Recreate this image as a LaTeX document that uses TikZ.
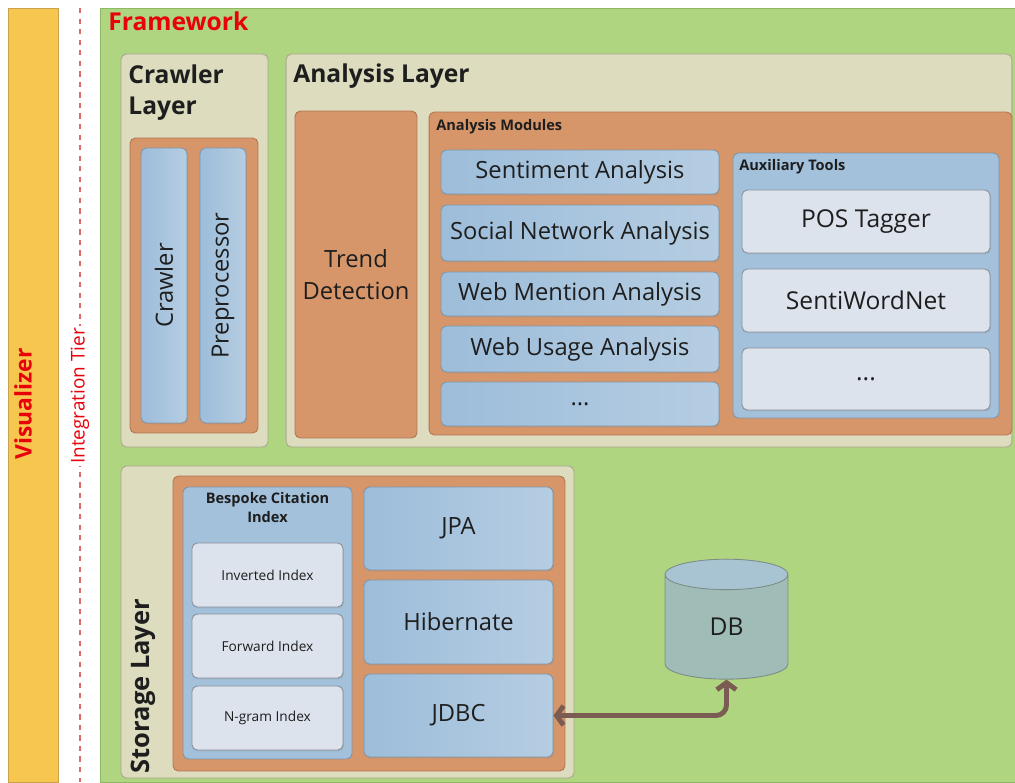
\documentclass[tikz,border=0pt]{standalone}
\usepackage{fontspec}
\setmainfont{Open Sans}
\usetikzlibrary{positioning,shapes.geometric,arrows.meta,shadows}

\definecolor{visbar}{HTML}{F6C64E}
\definecolor{visline}{HTML}{C8A24C}
\definecolor{fwgreen}{HTML}{B0D580}
\definecolor{fwline}{HTML}{8FB866}
\definecolor{beige}{HTML}{DDDCBF}
\definecolor{beigeline}{HTML}{A9A78E}
\definecolor{orng}{HTML}{D6966A}
\definecolor{orngline}{HTML}{B27552}
\definecolor{bluebox}{HTML}{A3C1DB}
\definecolor{blueL}{HTML}{9DBDDA}
\definecolor{blueR}{HTML}{B5CDE2}
\definecolor{blueline}{HTML}{7F95A8}
\definecolor{lightbox}{HTML}{DCE3EC}
\definecolor{grayline}{HTML}{8A9099}
\definecolor{txt}{HTML}{1E1E1E}
\definecolor{redtxt}{HTML}{E8000B}
\definecolor{tierline}{HTML}{E06A6A}
\definecolor{dbbody}{HTML}{9FBCB6}
\definecolor{dbtop}{HTML}{A8C4D3}
\definecolor{dbline}{HTML}{7D8C86}
\definecolor{linkc}{HTML}{7A5C53}

\begin{document}
\begin{tikzpicture}[x=0.02cm, y=-0.02cm,
box/.style={rounded corners=3pt, inner sep=0pt, line width=0.5pt},
shade/.style={drop shadow={opacity=0.2, shadow xshift=0.6pt, shadow yshift=-0.8pt}},
layer/.style={box, fill=beige, draw=beigeline},
group/.style={box, fill=orng, draw=orngline},
holder/.style={box, fill=bluebox, draw=blueline},
module/.style={box, shade, draw=blueline, left color=blueL, right color=blueR, text=txt,
  font=\fontsize{13.5}{16}\selectfont, align=center},
tool/.style={box, shade, fill=lightbox, draw=grayline, text=txt, align=center},
title/.style={anchor=north west, inner sep=0pt, text=txt,
  font=\bfseries\fontsize{14}{18}\selectfont, align=left},
subtitle/.style={inner sep=0pt, text=txt, font=\bfseries\fontsize{8.3}{11}\selectfont, align=center},
link/.style={draw=linkc, line width=2.8pt, rounded corners=6pt,
  {Straight Barb[length=4pt,width=11pt]}-{Straight Barb[length=4pt,width=11pt]}}]

\useasboundingbox[fill=white] (0,0) rectangle (1015,782);

% visualizer and integration tier
\node[fill=visbar, draw=visline, minimum width=1cm, minimum height=15.48cm, inner sep=0pt] (vis) at (33,395) {};
\node[rotate=90, text=redtxt, font=\bfseries\fontsize{13}{15}\selectfont, inner sep=0pt] (vislabel) at (23,404) {Visualizer};
\coordinate (tiertop) at (80,8);
\coordinate (tierbot) at (80,782);
\draw[tierline, dashed, line width=0.6pt] (tiertop) -- (tierbot);
\node[rotate=90, fill=white, text=redtxt, font=\fontsize{10.8}{12}\selectfont, inner sep=1pt] (tier) at (80,396) {Integration Tier};

% framework
\node[fill=fwgreen, draw=fwline, minimum width=18.3cm, minimum height=15.48cm, inner sep=0pt] (fw) at (557.5,395) {};
\node[anchor=north west, inner sep=0pt, text=redtxt, font=\bfseries\fontsize{14}{16}\selectfont] (fwlabel) at (108,11) {Framework};

% crawler layer
\node[layer, minimum width=2.94cm, minimum height=7.86cm] (crawl) at (194.5,250.5) {};
\node[title] (crawltitle) at (128,64) {Crawler\\Layer};
\node[group, minimum width=2.56cm, minimum height=5.9cm] (crawlgrp) at (194,285.5) {};
\node[module, rotate=90, minimum width=5.5cm, minimum height=0.92cm] (crawler) at (164,285.5) {Crawler};
\node[module, rotate=90, minimum width=5.5cm, minimum height=0.92cm] (prep) at (223,285.5) {Preprocessor};

% analysis layer
\node[layer, minimum width=14.52cm, minimum height=7.86cm] (analysis) at (649,250.5) {};
\node[title] (analysistitle) at (293,63) {Analysis Layer};
\node[group, text=txt, align=center, font=\fontsize{13.5}{18}\selectfont,
  minimum width=2.44cm, minimum height=6.54cm] (trend) at (356,274.5) {Trend\\Detection};
\node[group, minimum width=11.66cm, minimum height=6.46cm] (modules) at (720.5,273.5) {};
\node[subtitle, anchor=north west] (modtitle) at (436,119) {Analysis Modules};
\node[module, minimum width=5.56cm, minimum height=0.88cm] (senti) at (580,172) {Sentiment Analysis};
\node[module, minimum width=5.56cm, minimum height=1.12cm] (social) at (580,233) {Social Network Analysis};
\node[module, minimum width=5.56cm, minimum height=0.88cm] (mention) at (580,294) {Web Mention Analysis};
\node[module, minimum width=5.56cm, minimum height=0.92cm] (usage) at (580,349) {Web Usage Analysis};
\node[module, minimum width=5.56cm, minimum height=0.88cm] (moremod) at (580,404) {...};

% auxiliary tools
\node[holder, minimum width=5.32cm, minimum height=5.3cm] (aux) at (866,285.5) {};
\node[subtitle, anchor=north west] (auxtitle) at (739,159) {Auxiliary Tools};
\node[tool, font=\fontsize{14}{16}\selectfont, minimum width=4.96cm, minimum height=1.26cm] (pos) at (866,221.5) {POS Tagger};
\node[tool, font=\fontsize{14}{16}\selectfont, minimum width=4.96cm, minimum height=1.26cm] (swn) at (866,300.5) {SentiWordNet};
\node[tool, font=\fontsize{14}{16}\selectfont, minimum width=4.96cm, minimum height=1.24cm] (moretool) at (866,379) {...};

% storage layer
\node[layer, minimum width=9.06cm, minimum height=6.24cm] (storage) at (347.5,622) {};
\node[rotate=90, inner sep=0pt, text=txt, font=\bfseries\fontsize{14.5}{16}\selectfont] (storagetitle) at (143,686) {Storage Layer};
\node[group, minimum width=7.84cm, minimum height=5.9cm] (storegrp) at (369,623.5) {};
\node[holder, minimum width=3.38cm, minimum height=5.44cm] (bespoke) at (267.5,623) {};
\node[subtitle, anchor=north] (bespoketitle) at (267.5,492) {Bespoke Citation\\Index};
\node[tool, font=\fontsize{7.8}{9}\selectfont, minimum width=3.02cm, minimum height=1.28cm] (inverted) at (267.5,575) {Inverted Index};
\node[tool, font=\fontsize{7.8}{9}\selectfont, minimum width=3.02cm, minimum height=1.28cm] (forward) at (267.5,646) {Forward Index};
\node[tool, font=\fontsize{7.8}{9}\selectfont, minimum width=3.02cm, minimum height=1.28cm] (ngram) at (267.5,718) {N-gram Index};
\node[module, minimum width=3.78cm, minimum height=1.66cm] (jpa) at (458.5,528.5) {JPA};
\node[module, minimum width=3.78cm, minimum height=1.68cm] (hibernate) at (458.5,622) {Hibernate};
\node[module, minimum width=3.78cm, minimum height=1.66cm] (jdbc) at (458.5,715.5) {JDBC};

% database
\node[cylinder, shape border rotate=90, aspect=0.9, draw=dbline, line width=0.5pt,
  cylinder uses custom fill, cylinder body fill=dbbody, cylinder end fill=dbtop,
  minimum width=2.46cm, minimum height=2.4cm, inner sep=0pt, text=txt,
  font=\fontsize{14}{16}\selectfont] (db) at (726.5,627) {DB};
\draw[link] (jdbc.east) -| (db.south);
\end{tikzpicture}
\end{document}
